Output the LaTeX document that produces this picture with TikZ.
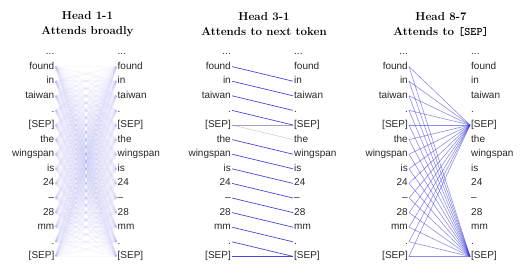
\documentclass[tikz,border=0pt]{standalone}
\usepackage{fontspec}
\newfontfamily\tokfont{Liberation Sans}
\usetikzlibrary{positioning}
\definecolor{attn}{RGB}{50,50,215}
\tikzset{
  tokl/.style   = {anchor=east, font=\tokfont, text=black!85, inner sep=1pt,
                   text height=7pt, text depth=2pt},
  tokr/.style   = {anchor=west, font=\tokfont, text=black!85, inner sep=1pt,
                   text height=7pt, text depth=2pt},
  head/.style   = {align=center, inner sep=0pt,
                   font=\fontsize{11.5}{15}\selectfont\bfseries},
  broad/.style  = {draw=attn, draw opacity=0.035, line width=1.8pt},
  faint/.style  = {draw=attn!40!gray, draw opacity=0.6, line width=0.5pt},
  mid/.style    = {draw=attn, draw opacity=0.55, line width=0.6pt},
  strong/.style = {draw=attn, draw opacity=0.9, line width=0.7pt},
}
\newcommand\tokdots{...}

\begin{document}
\begin{tikzpicture}[x=1pt, y=-1pt]
  \useasboundingbox (0,0) rectangle (530,278);
  % tokens and titles of the three heads
  \foreach \p/\xl/\ttl in {1/56.5/{Head 1-1\\Attends broadly},
                           2/233/{Head 3-1\\Attends to next token},
                           3/410/{Head 8-7\\Attends to \texttt{[SEP]}}} {
    \node[head] (h\p) at (\xl+31,24.5) {\ttl};
    \foreach \t [count=\k from 0] in {\tokdots,found,in,taiwan,.,[SEP],the,
                                      wingspan,is,24,–,28,mm,.,[SEP]} {
      \node[tokl] (l\p-\k) at (\xl-1,52+14.6*\k) {\t};
      \node[tokr] (r\p-\k) at (\xl+60,52+14.6*\k) {\t};
    }
  }
  % Head 1-1
  \foreach \i in {1,...,14}
    \foreach \j in {1,...,14}
      \draw[broad] (l1-\i.east) -- (r1-\j.west);
  % Head 3-1
  \foreach \i [evaluate=\i as \j using int(\i+1)] in {1,2,3,4,6,7,...,13}
    \draw[strong] (l2-\i.east) -- (r2-\j.west);
  \draw[faint] (l2-5.east) -- (r2-5.west);
  \draw[faint, draw opacity=0.35] (l2-5.east) -- (r2-6.west);
  \draw[strong] (l2-14.east) -- (r2-14.west);
  % Head 8-7
  \foreach \i in {1,...,14} {
    \draw[mid] (l3-\i.east) -- (r3-5.west);
    \draw[mid] (l3-\i.east) -- (r3-14.west);
  }
\end{tikzpicture}
\end{document}
